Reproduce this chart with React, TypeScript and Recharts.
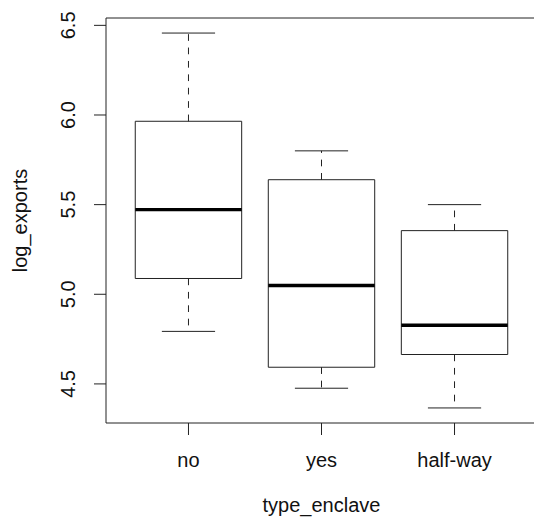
import React from 'react';
import {
  ComposedChart,
  XAxis,
  YAxis,
  Scatter,
  ReferenceArea,
  ReferenceLine,
  Label
} from 'recharts';

// Values
const categories = ['no', 'yes', 'half-way'];
const whiskerLow = [4.793, 4.476, 4.366];
const lowerQuartile = [5.088, 4.593, 4.664];
const medians = [5.472, 5.049, 4.827];
const upperQuartile = [5.965, 5.639, 5.355];
const whiskerHigh = [6.457, 5.8, 5.5];

const yTicks = [4.5, 5.0, 5.5, 6.0, 6.5];
const xTicks = [1, 2, 3];

const boxHalf = 0.4;
const capHalf = 0.2;

const table = categories.map((name, i) => ({
  x: i + 1,
  name,
  low: whiskerLow[i],
  q1: lowerQuartile[i],
  median: medians[i],
  q3: upperQuartile[i],
  high: whiskerHigh[i]
}));

const FONT = '"Liberation Sans", Arial, Helvetica, sans-serif';
const INK = '#222';

const YTick = ({ x, y, payload }: any) => (
  <text
    x={x}
    y={y}
    transform={`rotate(-90 ${x} ${y})`}
    textAnchor="middle"
    fontFamily={FONT}
    fontSize={20}
    fill="#111"
  >
    {Number(payload.value).toFixed(1)}
  </text>
);

const XTick = ({ x, y, payload }: any) => (
  <text x={x} y={y} dy="0.71em" textAnchor="middle" fontFamily={FONT} fontSize={20} fill="#111">
    {categories[payload.value - 1]}
  </text>
);

export default function App() {
  return (
    <div
      style={{
        position: 'absolute',
        left: 0,
        top: 0,
        width: 534,
        height: 520,
        overflow: 'hidden',
        background: '#fff'
      }}
    >
      <ComposedChart
        width={560}
        height={520}
        data={table}
        margin={{ top: 18, right: 23, bottom: 0, left: 0 }}
      >
        <XAxis
          dataKey="x"
          type="number"
          domain={[0.38, 3.62]}
          ticks={xTicks}
          allowDataOverflow
          height={97}
          tickSize={12}
          tickMargin={18}
          axisLine={false}
          tickLine={{ stroke: INK }}
          tick={<XTick />}
        >
          <Label
            content={({ viewBox }: any) => (
              <text
                x={viewBox.x + viewBox.width / 2}
                y={viewBox.y + 88.7}
                textAnchor="middle"
                fontFamily={FONT}
                fontSize={20}
                fill="#111"
              >
                type_enclave
              </text>
            )}
          />
        </XAxis>
        <YAxis
          type="number"
          domain={[4.282, 6.541]}
          ticks={yTicks}
          allowDataOverflow
          width={106}
          tickSize={12}
          tickMargin={19}
          axisLine={false}
          tickLine={{ stroke: INK }}
          tick={<YTick />}
        >
          <Label
            content={({ viewBox }: any) => {
              const cx = 27;
              const cy = viewBox.y + viewBox.height / 2;
              return (
                <text
                  x={cx}
                  y={cy}
                  transform={`rotate(-90 ${cx} ${cy})`}
                  textAnchor="middle"
                  fontFamily={FONT}
                  fontSize={20}
                  fill="#111"
                >
                  log_exports
                </text>
              );
            }}
          />
        </YAxis>

        {table.map((d) => (
          <React.Fragment key={d.name}>
            <ReferenceLine
              segment={[{ x: d.x, y: d.q3 }, { x: d.x, y: d.high }]}
              stroke={INK}
              strokeDasharray="6.7 6.7"
            />
            <ReferenceLine
              segment={[{ x: d.x, y: d.q1 }, { x: d.x, y: d.low }]}
              stroke={INK}
              strokeDasharray="6.7 6.7"
            />
            <ReferenceLine
              segment={[{ x: d.x - capHalf, y: d.high }, { x: d.x + capHalf, y: d.high }]}
              stroke={INK}
            />
            <ReferenceLine
              segment={[{ x: d.x - capHalf, y: d.low }, { x: d.x + capHalf, y: d.low }]}
              stroke={INK}
            />
            <ReferenceArea
              x1={d.x - boxHalf}
              x2={d.x + boxHalf}
              y1={d.q1}
              y2={d.q3}
              fill="#fff"
              fillOpacity={1}
              stroke={INK}
              strokeWidth={1}
            />
            <ReferenceLine
              segment={[{ x: d.x - boxHalf, y: d.median }, { x: d.x + boxHalf, y: d.median }]}
              stroke="#000"
              strokeWidth={3.4}
            />
          </React.Fragment>
        ))}

        {/* plot frame (right side falls outside the window, as in the reference) */}
        <ReferenceArea
          x1={0.38}
          x2={3.62}
          y1={4.282}
          y2={6.541}
          fill="none"
          stroke={INK}
          strokeWidth={1}
          ifOverflow="visible"
        />

        <Scatter dataKey="median" isAnimationActive={false} shape={() => <g />} />
      </ComposedChart>
    </div>
  );
}
